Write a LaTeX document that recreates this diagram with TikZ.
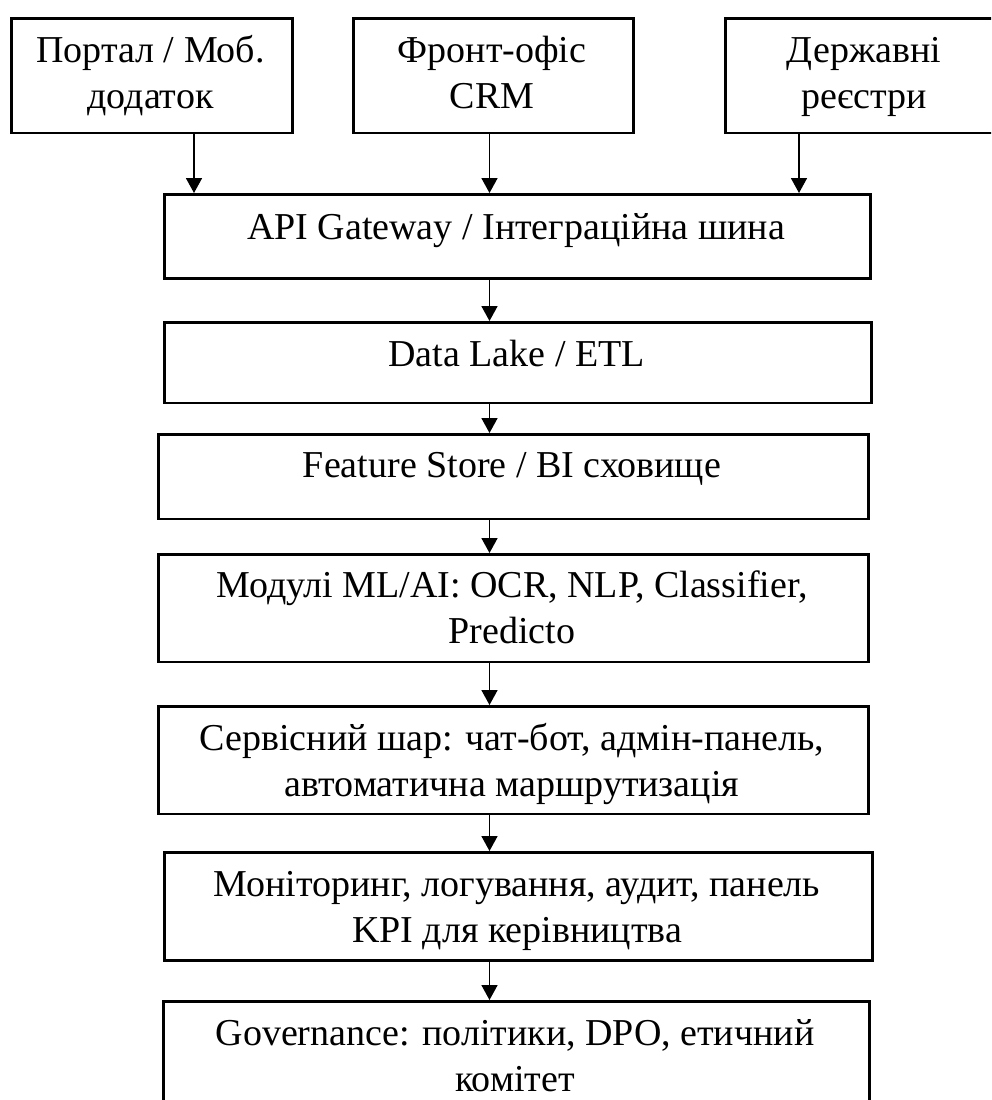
\documentclass[tikz,border=0pt]{standalone}
\usepackage{fontspec}
\setmainfont{Liberation Serif}
\usetikzlibrary{arrows.meta}

\tikzset{
  box/.style={draw, line width=2.6pt, rectangle, inner sep=0pt, anchor=north west},
  txt/.style={anchor=base, align=center, inner sep=0pt,
              font=\fontsize{38}{46}\selectfont},
  arr/.style={line width=1.7pt, -{Triangle[width=16pt,length=15pt]}},
}

\begin{document}
\begin{tikzpicture}[x=1pt, y=-1pt]
\clip (0,0) rectangle (991,1100);
\fill[white] (0,0) rectangle (991,1100);

% sources (base anchor sits on the last line of each label)
\node[box, minimum width=281pt, minimum height=114.5pt] (src1) at (10,17) {};
\node[box, minimum width=280pt, minimum height=114.5pt] (src2) at (352,17) {};
\node[box, minimum width=280pt, minimum height=114.5pt] (src3) at (724,17) {};
\node[txt] at (150.5,108.5) {Портал / Моб.\\додаток};
\node[txt] at (492,108.5) {Фронт-офіс\\CRM};
\node[txt] at (864,108.5) {Державні\\реєстри};

% layered stack
\node[box, minimum width=706pt, minimum height=84pt]  (api) at (163,193) {};
\node[box, minimum width=707pt, minimum height=80.5pt] (lake) at (163,321) {};
\node[box, minimum width=710pt, minimum height=84.5pt] (fs) at (157,433) {};
\node[box, minimum width=710pt, minimum height=107.5pt] (ml) at (157,553) {};
\node[box, minimum width=710pt, minimum height=107.5pt] (srv) at (157,705) {};
\node[box, minimum width=708pt, minimum height=108pt] (mon) at (163,851) {};
\node[box, minimum width=706pt, minimum height=115pt] (gov) at (162,1000) {};

\node[txt] at (516,239) {API Gateway / Інтеграційна шина};
\node[txt] at (516.5,366) {Data Lake / ETL};
\node[txt] at (512,477.5) {Feature Store / BI сховище};
\node[txt] at (512,643.5) {Модулі ML/AI: OCR, NLP, Classifier,\\Predicto};
\node[txt] at (512,796.5) {Сервісний шар: чат-бот, адмін-панель,\\автоматична маршрутизація};
\node[txt] at (517,942) {Моніторинг, логування, аудит, панель\\KPI для керівництва};
\node[txt] at (515,1091.5) {Governance: політики, DPO, етичний\\комітет};

% connector columns
\coordinate (c1) at (194,0);
\coordinate (c2) at (489.5,0);
\coordinate (c3) at (799,0);

\draw[arr] (c1 |- src1.south) -- (c1 |- api.north);
\draw[arr] (c2 |- src2.south) -- (c2 |- api.north);
\draw[arr] (c3 |- src3.south) -- (c3 |- api.north);
\draw[arr] (c2 |- api.south) -- (c2 |- lake.north);
\draw[arr] (c2 |- lake.south) -- (c2 |- fs.north);
\draw[arr] (c2 |- fs.south) -- (c2 |- ml.north);
\draw[arr] (c2 |- ml.south) -- (c2 |- srv.north);
\draw[arr] (c2 |- srv.south) -- (c2 |- mon.north);
\draw[arr] (c2 |- mon.south) -- (c2 |- gov.north);
\end{tikzpicture}
\end{document}
